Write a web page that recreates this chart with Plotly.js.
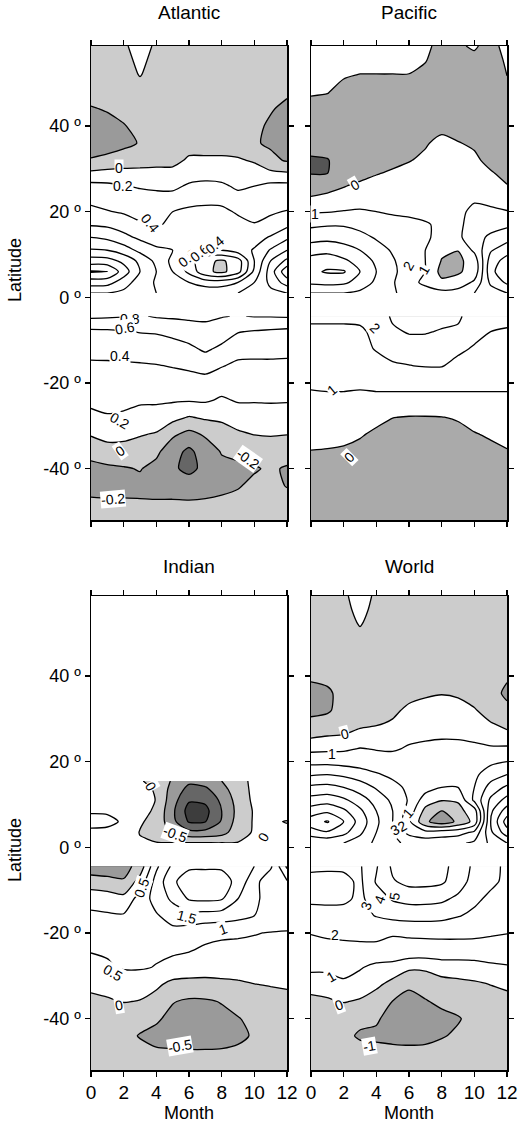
<!DOCTYPE html>
<html><head><meta charset="utf-8">
<script src="https://cdn.plot.ly/plotly-3.0.1.min.js"></script>
<style>html,body{margin:0;padding:0;background:#fff;} #chart{width:521px;height:1133px;}</style>
</head><body><div id="chart"></div>
<script>
// ---------------- DATA ----------------
const months = [0,1,2,3,4,5,6,7,8,9,10,11,12];
const latNorth = [1,3.5,6,8.5,11,14,17,20,23,26,29,32,36,40,44,48,52,55.5,58.7];
const latNorthIndian = [1,3.5,6,8.5,11,13.5,15.5];
const latSouth = [-52,-48,-44,-40,-36,-32,-28,-24,-20,-16,-12,-8,-4.4];

const atlanticNorth = [
 [1.0,1.0,0.95,0.85,0.8,0.8,0.8,0.75,0.75,0.8,0.85,0.95,1.0],
 [1.3,1.28,1.1,0.9,0.78,0.7,0.6,0.5,0.5,0.6,0.8,1.05,1.3],
 [1.62,1.61,1.3,1.0,0.8,0.6,0.35,0.05,-0.05,0.12,0.65,1.1,1.55],
 [1.3,1.28,1.15,0.95,0.75,0.55,0.3,0.05,-0.03,0.1,0.6,1.0,1.25],
 [1.02,1.0,0.9,0.75,0.64,0.6,0.5,0.4,0.4,0.5,0.62,0.82,1.0],
 [0.8,0.76,0.66,0.56,0.5,0.55,0.6,0.6,0.55,0.5,0.52,0.62,0.76],
 [0.58,0.56,0.5,0.42,0.37,0.45,0.5,0.5,0.5,0.45,0.41,0.45,0.55],
 [0.44,0.41,0.38,0.34,0.33,0.4,0.44,0.45,0.44,0.38,0.34,0.38,0.41],
 [0.36,0.33,0.3,0.28,0.27,0.28,0.33,0.35,0.35,0.28,0.27,0.3,0.32],
 [0.26,0.24,0.21,0.18,0.16,0.15,0.23,0.26,0.24,0.16,0.2,0.25,0.26],
 [0.04,0.07,0.07,0.07,0.07,0.06,0.1,0.11,0.1,0.09,0.08,0.04,0.02],
 [-0.19,-0.17,-0.12,-0.1,-0.08,-0.06,0.03,0.03,0.03,0.02,-0.02,-0.15,-0.22],
 [-0.26,-0.25,-0.24,-0.19,-0.12,-0.1,-0.08,-0.08,-0.08,-0.1,-0.18,-0.23,-0.27],
 [-0.26,-0.24,-0.21,-0.15,-0.12,-0.1,-0.1,-0.1,-0.1,-0.12,-0.17,-0.22,-0.26],
 [-0.21,-0.19,-0.15,-0.12,-0.1,-0.1,-0.1,-0.1,-0.1,-0.12,-0.15,-0.19,-0.23],
 [-0.15,-0.13,-0.1,-0.08,-0.1,-0.1,-0.1,-0.1,-0.1,-0.1,-0.12,-0.15,-0.18],
 [-0.12,-0.1,-0.08,0.01,-0.08,-0.1,-0.1,-0.1,-0.1,-0.1,-0.1,-0.1,-0.12],
 [-0.1,-0.1,-0.05,0.04,-0.05,-0.1,-0.1,-0.1,-0.1,-0.1,-0.1,-0.1,-0.1],
 [-0.1,-0.1,-0.03,0.08,-0.03,-0.1,-0.1,-0.12,-0.12,-0.1,-0.1,-0.1,-0.1]
];
const atlanticSouth = [
 [-0.12,-0.12,-0.12,-0.12,-0.12,-0.12,-0.12,-0.12,-0.12,-0.12,-0.12,-0.12,-0.12],
 [-0.18,-0.18,-0.18,-0.185,-0.18,-0.18,-0.18,-0.18,-0.17,-0.16,-0.14,-0.15,-0.16],
 [-0.24,-0.256,-0.249,-0.245,-0.28,-0.275,-0.3,-0.26,-0.236,-0.21,-0.17,-0.17,-0.205],
 [-0.25,-0.235,-0.215,-0.19,-0.258,-0.37,-0.45,-0.35,-0.25,-0.232,-0.213,-0.18,-0.215],
 [-0.14,-0.086,-0.08,-0.09,-0.158,-0.32,-0.443,-0.3,-0.187,-0.161,-0.145,-0.1,-0.133],
 [0.017,0.071,0.057,0.014,-0.017,-0.168,-0.257,-0.175,-0.08,-0.032,0.005,0.013,0.005],
 [0.155,0.186,0.171,0.129,0.117,0.064,-0.012,0.03,0.035,0.1,0.1,0.12,0.11],
 [0.243,0.253,0.248,0.229,0.23,0.222,0.218,0.226,0.175,0.218,0.218,0.218,0.216],
 [0.307,0.313,0.312,0.305,0.31,0.311,0.322,0.33,0.29,0.291,0.291,0.291,0.29],
 [0.371,0.373,0.376,0.381,0.39,0.41,0.432,0.467,0.41,0.364,0.364,0.364,0.361],
 [0.457,0.46,0.471,0.486,0.5,0.523,0.559,0.633,0.56,0.467,0.457,0.457,0.45],
 [0.56,0.567,0.586,0.61,0.617,0.65,0.695,0.729,0.7,0.61,0.586,0.571,0.55],
 [0.84,0.83,0.81,0.78,0.82,0.83,0.84,0.84,0.81,0.79,0.81,0.81,0.82]
];

const pacificNorth = [
 [3.0,3.0,3.0,2.8,2.5,2.1,1.7,1.4,1.3,1.5,2.0,2.5,3.0],
 [4.2,4.3,4.2,3.6,2.8,2.1,1.3,0.8,0.2,0.3,1.2,3.2,4.2],
 [4.8,5.1,5.1,4.0,3.0,2.2,1.5,1.0,-0.3,-0.1,0.3,3.7,4.8],
 [4.4,4.6,4.2,3.6,2.8,2.1,1.5,1.0,-0.05,-0.2,0.4,3.5,4.4],
 [3.6,3.7,3.4,3.0,2.4,1.9,1.5,1.0,0.2,0.02,1.2,2.9,3.6],
 [2.6,2.7,2.6,2.3,1.9,1.6,1.4,1.1,0.8,0.8,1.6,2.2,2.6],
 [1.8,1.9,1.9,1.7,1.5,1.3,1.2,1.05,0.9,0.85,1.3,1.6,1.8],
 [0.9,0.95,1.05,1.1,1.0,0.9,0.85,0.85,0.8,0.9,1.1,1.1,1.05],
 [0.1,0.25,0.4,0.6,0.6,0.7,0.75,0.8,0.8,0.95,0.95,0.85,0.5],
 [-0.4,-0.3,-0.05,0.2,0.3,0.5,0.6,0.7,0.7,0.7,0.6,0.4,0.05],
 [-1.05,-1.02,-0.5,-0.35,-0.05,0.1,0.3,0.5,0.6,0.6,0.5,0.1,-0.3],
 [-1.1,-1.05,-0.6,-0.5,-0.4,-0.2,-0.05,0.2,0.5,0.5,0.2,-0.3,-0.7],
 [-0.7,-0.6,-0.5,-0.5,-0.45,-0.4,-0.3,-0.1,0.3,0.05,-0.15,-0.4,-0.6],
 [-0.6,-0.5,-0.5,-0.5,-0.5,-0.5,-0.5,-0.4,-0.3,-0.4,-0.5,-0.5,-0.6],
 [-0.3,-0.4,-0.5,-0.5,-0.5,-0.5,-0.5,-0.5,-0.5,-0.5,-0.5,-0.5,-0.5],
 [0.1,0.05,-0.3,-0.4,-0.4,-0.4,-0.4,-0.5,-0.5,-0.5,-0.5,-0.5,-0.3],
 [0.3,0.3,0.1,-0.02,-0.02,-0.02,-0.02,-0.2,-0.5,-0.5,-0.5,-0.4,0.02],
 [0.4,0.4,0.4,0.4,0.4,0.4,0.3,0.05,-0.4,-0.3,-0.2,-0.3,0.1],
 [0.5,0.5,0.5,0.5,0.5,0.5,0.5,0.2,-0.3,-0.1,0.1,-0.3,0.3]
];
const pacificSouth = [
 [-0.5,-0.5,-0.5,-0.5,-0.5,-0.5,-0.5,-0.5,-0.5,-0.5,-0.5,-0.5,-0.5],
 [-0.5,-0.5,-0.5,-0.5,-0.5,-0.5,-0.5,-0.5,-0.5,-0.5,-0.5,-0.5,-0.5],
 [-0.5,-0.5,-0.5,-0.5,-0.5,-0.5,-0.5,-0.5,-0.5,-0.5,-0.5,-0.5,-0.5],
 [-0.45,-0.45,-0.5,-0.5,-0.5,-0.5,-0.5,-0.5,-0.5,-0.5,-0.5,-0.45,-0.45],
 [-0.02,-0.05,-0.1,-0.3,-0.5,-0.5,-0.5,-0.5,-0.5,-0.5,-0.4,-0.2,-0.05],
 [0.25,0.25,0.2,0.1,-0.2,-0.4,-0.5,-0.5,-0.45,-0.3,-0.05,0.1,0.25],
 [0.55,0.55,0.5,0.45,0.3,0.02,-0.05,-0.05,-0.02,0.1,0.3,0.45,0.55],
 [0.88,0.85,0.9,0.88,0.85,0.8,0.8,0.8,0.8,0.8,0.8,0.8,0.85],
 [1.08,1.15,1.1,1.08,1.15,1.2,1.2,1.2,1.2,1.2,1.2,1.2,1.15],
 [1.3,1.3,1.3,1.35,1.5,1.9,1.98,2.05,2.05,1.7,1.5,1.4,1.3],
 [1.5,1.5,1.5,1.6,2.1,2.3,2.3,2.3,2.4,2.2,1.9,1.7,1.6],
 [1.7,1.7,1.7,1.8,2.3,2.1,1.95,1.95,2.05,2.1,2.3,2.0,1.9],
 [2.3,2.3,2.3,2.3,2.4,1.9,1.7,1.7,1.8,1.9,2.3,2.3,2.3]
];

const indianNorth = [
 [0.2,0.2,0.15,0.05,0.02,0.02,0.03,0.03,0.02,0.02,0.1,0.15,0.2],
 [0.4,0.4,0.3,-0.02,-0.2,-0.6,-0.85,-0.85,-0.7,-0.2,0.05,0.1,0.15],
 [0.65,0.6,0.45,0.05,-0.15,-0.85,-1.55,-1.52,-0.95,-0.3,0.05,0.08,-0.03],
 [0.45,0.45,0.4,0.2,-0.1,-0.9,-1.7,-1.65,-1.0,-0.35,0.05,0.15,0.3],
 [0.4,0.4,0.35,0.25,-0.02,-0.8,-1.45,-1.4,-0.9,-0.3,0.1,0.2,0.3],
 [0.35,0.35,0.3,0.15,-0.05,-0.7,-1.15,-1.1,-0.7,-0.2,0.1,0.2,0.3],
 [0.3,0.3,0.2,0.05,-0.2,-0.55,-0.9,-0.8,-0.5,-0.15,0.1,0.2,0.3]
];
const indianSouth = [
 [-0.25,-0.25,-0.25,-0.25,-0.25,-0.25,-0.25,-0.25,-0.25,-0.25,-0.25,-0.25,-0.25],
 [-0.3,-0.3,-0.35,-0.4,-0.45,-0.45,-0.45,-0.45,-0.45,-0.4,-0.35,-0.3,-0.3],
 [-0.3,-0.32,-0.4,-0.52,-0.6,-0.65,-0.7,-0.7,-0.65,-0.6,-0.45,-0.35,-0.3],
 [-0.25,-0.28,-0.32,-0.38,-0.45,-0.6,-0.7,-0.68,-0.6,-0.52,-0.4,-0.3,-0.25],
 [-0.1,-0.05,0.02,-0.02,-0.2,-0.48,-0.56,-0.55,-0.48,-0.35,-0.28,-0.2,-0.12],
 [0.1,0.15,0.2,0.2,0.1,-0.15,-0.2,-0.2,-0.15,-0.1,-0.01,0.03,0.05],
 [0.4,0.45,0.55,0.55,0.48,0.4,0.35,0.3,0.3,0.3,0.3,0.28,0.27],
 [0.52,0.55,0.6,0.62,0.58,0.55,0.52,0.45,0.4,0.4,0.38,0.38,0.37],
 [0.65,0.7,0.72,0.75,0.8,0.85,0.75,0.6,0.57,0.55,0.52,0.48,0.48],
 [0.55,0.55,0.55,0.75,0.95,1.2,1.3,1.3,1.25,1.15,1.0,0.85,0.65],
 [0.4,0.3,0.15,0.7,1.2,1.6,2.05,2.1,2.05,1.5,1.1,0.8,0.6],
 [-0.35,-0.4,-0.45,0.2,1.2,1.9,2.3,2.35,2.3,1.8,1.2,0.6,0.55],
 [-0.7,-0.7,-0.7,-0.3,0.9,1.6,1.9,1.9,1.9,1.6,1.5,1.1,-0.1]
];

const worldNorth = [
 [5.0,5.2,5.0,4.5,3.8,3.2,2.8,2.6,2.6,2.8,3.2,4.2,5.0],
 [6.6,6.9,6.3,5.2,4.0,3.0,1.7,1.3,1.5,1.6,2.2,4.8,6.6],
 [7.5,8.1,7.0,5.6,4.2,3.0,1.2,-0.8,-1.6,-0.8,0.3,5.0,7.5],
 [6.5,6.8,6.2,5.2,4.0,3.0,1.6,-0.3,-1.05,-0.3,0.5,4.8,6.5],
 [5.4,5.6,5.2,4.5,3.6,2.8,1.9,0.5,0.05,0.1,2.2,4.2,5.4],
 [4.2,4.3,4.0,3.5,2.9,2.3,1.8,1.4,1.0,1.0,2.0,3.4,4.2],
 [2.9,3.0,2.8,2.5,2.1,1.8,1.6,1.5,1.3,1.3,1.8,2.5,3.0],
 [1.7,1.7,1.6,1.5,1.4,1.4,1.35,1.3,1.3,1.35,1.5,1.8,2.0],
 [0.75,0.8,0.85,1.05,0.95,0.9,1.1,1.15,1.15,1.25,1.2,1.15,1.2],
 [-0.15,0.0,0.05,0.3,0.4,0.6,0.8,0.9,0.95,0.9,0.8,0.5,0.3],
 [-0.8,-0.7,-0.4,-0.2,-0.1,0.1,0.5,0.7,0.8,0.7,0.45,0.05,-0.3],
 [-1.2,-1.1,-0.7,-0.5,-0.3,-0.2,0.2,0.4,0.5,0.4,0.1,-0.5,-0.9],
 [-1.2,-1.1,-0.8,-0.6,-0.5,-0.45,-0.3,-0.15,-0.05,-0.15,-0.5,-0.85,-1.08],
 [-0.9,-0.85,-0.7,-0.6,-0.55,-0.5,-0.5,-0.5,-0.5,-0.55,-0.65,-0.8,-0.95],
 [-0.7,-0.7,-0.6,-0.5,-0.5,-0.5,-0.5,-0.5,-0.5,-0.5,-0.6,-0.7,-0.8],
 [-0.6,-0.6,-0.5,-0.4,-0.5,-0.5,-0.5,-0.5,-0.5,-0.5,-0.5,-0.6,-0.7],
 [-0.5,-0.5,-0.4,0.05,-0.4,-0.5,-0.5,-0.5,-0.5,-0.5,-0.5,-0.5,-0.5],
 [-0.5,-0.5,-0.3,0.3,-0.3,-0.5,-0.5,-0.5,-0.5,-0.5,-0.5,-0.5,-0.5],
 [-0.5,-0.5,-0.2,0.5,-0.2,-0.5,-0.5,-0.5,-0.5,-0.5,-0.5,-0.5,-0.5]
];
const worldSouth = [
 [-0.5,-0.5,-0.5,-0.5,-0.5,-0.5,-0.5,-0.5,-0.5,-0.5,-0.5,-0.5,-0.5],
 [-0.5,-0.5,-0.6,-0.7,-0.75,-0.8,-0.8,-0.8,-0.75,-0.7,-0.6,-0.5,-0.5],
 [-0.5,-0.55,-0.8,-1.1,-1.15,-1.2,-1.25,-1.2,-1.05,-0.9,-0.7,-0.6,-0.5],
 [-0.5,-0.55,-0.7,-0.8,-0.9,-1.3,-1.4,-1.3,-1.2,-1.05,-0.8,-0.6,-0.5],
 [-0.2,-0.1,0.05,-0.1,-0.5,-1.02,-1.2,-1.05,-0.85,-0.75,-0.6,-0.4,-0.25],
 [0.3,0.35,0.8,0.5,0.2,-0.3,-0.9,-0.7,-0.4,-0.25,-0.15,0.02,0.15],
 [1.3,1.3,1.4,1.1,0.7,0.6,0.2,0.2,0.5,0.5,0.6,0.8,0.9],
 [1.8,1.8,1.8,1.8,1.9,1.8,1.75,1.7,1.65,1.65,1.6,1.6,1.65],
 [2.02,2.1,2.15,2.2,2.1,2.05,2.1,2.15,2.2,2.2,2.2,2.1,2.02],
 [2.6,2.5,2.6,2.7,3.05,3.3,3.4,3.4,3.3,3.05,2.8,2.7,2.6],
 [3.2,3.3,3.2,2.8,3.5,4.1,4.3,4.3,4.2,3.8,3.2,2.8,2.5],
 [3.3,3.4,3.3,2.8,4.1,4.9,5.3,5.3,5.15,4.5,3.6,3.2,2.8],
 [2.8,2.8,2.8,2.9,3.9,5.2,5.5,5.5,5.3,4.6,3.8,3.3,2.8]
];

const panelTitles = ["Atlantic","Pacific","Indian","World"];
const latTickVals = [-40,-20,0,20,40];
const latTickText = ["-40 º","-20 º","0 º","20 º","40 º"];
const monthTickVals = [0,2,4,6,8,10,12];

// contour labels: [text, month, latitude, angle]
const atlanticLabels = [["0",1.73,30.3,0],["0.2",1.98,26,0],["0.4",3.6,17.3,50],["0.8",5.94,9.1,-40],["0.6",6.65,10.3,-40],["0.4",7.57,12.2,-40],
 ["0.8",2.39,-5.1,0],["0.6",2.08,-7.2,-10],["0.4",1.78,-13.7,0],["0.2",1.78,-28.8,30],["0",1.78,-35.8,-35],["-0.2",9.63,-37.7,35],["-0.2",1.37,-47.1,-5]];
const pacificLabels = [["0",2.69,26.2,-30],["1",0.24,19.5,0],["2",5.94,7.4,-60],["1",6.9,6.4,-60],["2",3.92,-7.2,45],["1",1.27,-21.6,-40],["0",2.35,-37.2,-45]];
const indianLabels = [["0",3.65,14.3,60],["-0.5",5.14,3.1,20],["0",10.55,2.5,-60],["0.5",3.1,-9.5,-70],["1.5",5.86,-16.3,15],["1",8.1,-19.1,-20],
 ["0.5",1.37,-29.4,30],["0",1.73,-36.8,-10],["-0.5",5.45,-46.5,-10]];
const worldLabels = [["0",2.08,26.4,-15],["1",1.27,21.8,0],["1",5.94,8,-50],["2",5.6,5,-30],["3",5.13,4.1,-30],["5",5.1,-11.3,-80],["4",4.2,-12.3,-70],
 ["3",3.4,-13.8,-70],["2",1.47,-20.4,0],["1",1.2,-30.2,-30],["0",1.7,-36.8,-20],["-1",3.6,-46.5,-10]];

// ---------------- STYLE ----------------
const EPS = 1e-4;
const levelStyle = {
  atlantic: {start:-0.4, end:1.6, size:0.2, greys:['#666666','#9a9a9a','#cccccc']},
  pacific:  {start:-1, end:5, size:1, greys:['#555555','#aaaaaa']},
  indian:   {start:-1.5, end:2, size:0.5, greys:['#3d3d3d','#666666','#9a9a9a','#cccccc']},
  world:    {start:-2, end:8, size:1, greys:['#6e6e6e','#9a9a9a','#cccccc']}
};
function scaleFor(s){
  const nc = Math.round((s.end - s.start)/s.size) + 1;
  const cs = [];
  for(let k=0;k<=nc;k++){ cs.push([k/nc, k < s.greys.length ? s.greys[k] : '#ffffff']); }
  return cs;
}
function contourTrace(z, y, xa, ya, s){
  return {
    type:'contour', x: months, y: y, z: z, xaxis: xa, yaxis: ya,
    autocontour:false,
    contours:{start:s.start+EPS, end:s.end+EPS, size:s.size, coloring:'fill', showlines:true, showlabels:false},
    colorscale: scaleFor(s), showscale:false,
    line:{color:'#000000', width:1.3, smoothing:0.7},
    hoverinfo:'skip'
  };
}
const traces = [
  contourTrace(atlanticNorth, latNorth, 'x', 'y', levelStyle.atlantic),
  contourTrace(atlanticSouth, latSouth, 'x', 'y', levelStyle.atlantic),
  contourTrace(pacificNorth, latNorth, 'x2', 'y2', levelStyle.pacific),
  contourTrace(pacificSouth, latSouth, 'x2', 'y2', levelStyle.pacific),
  contourTrace(indianNorth, latNorthIndian, 'x3', 'y3', levelStyle.indian),
  contourTrace(indianSouth, latSouth, 'x3', 'y3', levelStyle.indian),
  contourTrace(worldNorth, latNorth, 'x4', 'y4', levelStyle.world),
  contourTrace(worldSouth, latSouth, 'x4', 'y4', levelStyle.world)
];

const W = 521, H = 1133;
const colL = [91/W, 287/W], colR = [311/W, 507/W];
const rowTop = [1-520/H, 1-46/H], rowBot = [1-1070/H, 1-596/H];
const FONT = 'Liberation Sans, Arial, sans-serif';

function xAx(domain, anchor, labels){
  return {domain, anchor, range:[0,12], tickvals:monthTickVals, ticks:'outside', ticklen:5, tickwidth:1.3, tickcolor:'#000',
    showline:true, linecolor:'#000', linewidth:1.5, mirror:'ticks', showgrid:false, zeroline:false,
    showticklabels:labels, tickfont:{size:19, color:'#000', family:FONT}};
}
function yAx(domain, anchor, labels){
  return {domain, anchor, range:[-52,58.7], tickvals:latTickVals, ticktext:latTickText, ticks:'outside', ticklen:5, tickwidth:1.3, tickcolor:'#000',
    showline:true, linecolor:'#000', linewidth:1.5, mirror:'ticks', showgrid:false, zeroline:false,
    showticklabels:labels, tickfont:{size:18, color:'#000', family:FONT}};
}

const annotations = [];
function addText(text, x, y, size, angle){
  annotations.push({text, x, y, xref:'paper', yref:'paper', showarrow:false, xanchor:'center', yanchor:'middle',
    textangle:angle||0, font:{size, color:'#000', family:FONT}});
}
addText(panelTitles[0], 189/W, 1-13/H, 19);
addText(panelTitles[1], 409/W, 1-13/H, 19);
addText(panelTitles[2], 189/W, 1-566/H, 19);
addText(panelTitles[3], 409/W, 1-566/H, 19);
addText('Latitude', 15/W, 1-270/H, 18, -90);
addText('Latitude', 15/W, 1-850/H, 18, -90);
addText('Month', 189/W, 1-1113/H, 18);
addText('Month', 409/W, 1-1113/H, 18);

function addLabels(list, xa, ya){
  list.forEach(l => annotations.push({text:l[0], x:l[1], y:l[2], xref:xa, yref:ya, showarrow:false, textangle:l[3],
    bgcolor:'#ffffff', borderpad:0, font:{size:14, color:'#000', family:FONT}}));
}
addLabels(atlanticLabels, 'x', 'y');
addLabels(pacificLabels, 'x2', 'y2');
addLabels(indianLabels, 'x3', 'y3');
addLabels(worldLabels, 'x4', 'y4');

const layout = {
  width:W, height:H, margin:{l:0,r:0,t:0,b:0}, paper_bgcolor:'#fff', plot_bgcolor:'#fff', showlegend:false,
  font:{family:FONT, color:'#000'},
  xaxis: xAx(colL, 'y', false), yaxis: yAx(rowTop, 'x', true),
  xaxis2: xAx(colR, 'y2', false), yaxis2: yAx(rowTop, 'x2', false),
  xaxis3: xAx(colL, 'y3', true), yaxis3: yAx(rowBot, 'x3', true),
  xaxis4: xAx(colR, 'y4', true), yaxis4: yAx(rowBot, 'x4', false),
  annotations
};
Plotly.newPlot('chart', traces, layout, {displayModeBar:false, staticPlot:true});
</script></body></html>
